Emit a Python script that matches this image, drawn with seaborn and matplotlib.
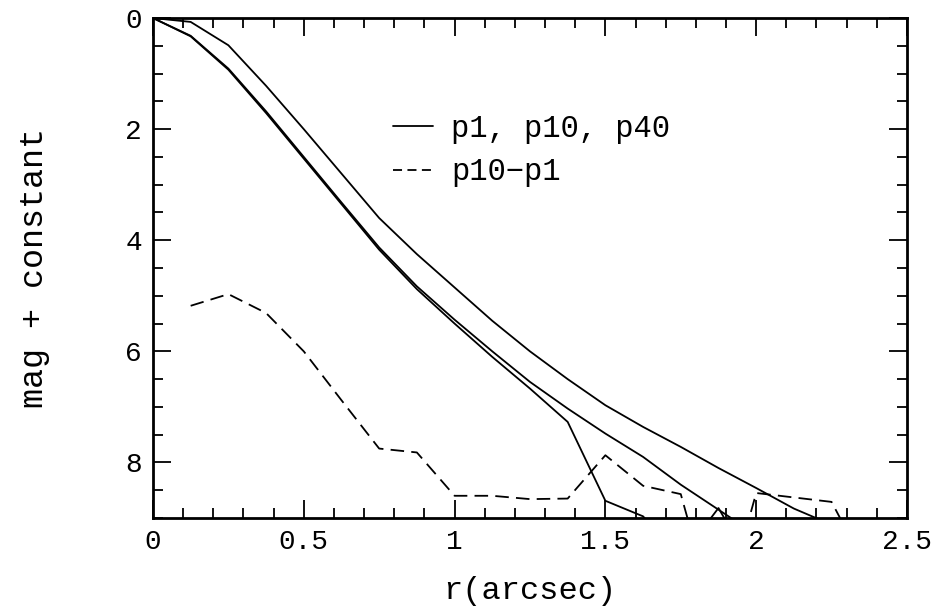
import numpy as np
import pandas as pd
import matplotlib
matplotlib.use("Agg")
import matplotlib.pyplot as plt
from matplotlib.lines import Line2D
from matplotlib.ticker import MultipleLocator
import seaborn as sns

# radius grid (arcsec) and profiles
r = [0, 0.125, 0.25, 0.375, 0.5, 0.625, 0.75, 0.875, 1.0, 1.125,
     1.25, 1.375, 1.5, 1.625, 1.75, 1.875, 2.0, 2.125, 2.25, 2.375]
p40 = [0, 0.07, 0.49, 1.22, 2.0, 2.8, 3.6, 4.25, 4.85, 5.45,
       6.0, 6.5, 6.97, 7.36, 7.72, 8.1, 8.46, 8.83, 9.12, 9.5]
p10 = [0, 0.32, 0.91, 1.68, 2.5, 3.32, 4.13, 4.83, 5.43, 6.0,
       6.55, 7.03, 7.48, 7.9, 8.4, 8.85, 9.3, 9.7, 10.1, 10.5]
p1 = [0, 0.33, 0.93, 1.71, 2.53, 3.35, 4.17, 4.88, 5.5, 6.1,
      6.67, 7.27, 8.69, 8.97, 9.72, 8.82, 10.0, 10.5, 11.0, 11.5]
diff = [np.nan, 5.18, 4.97, 5.31, 6.0, 6.88, 7.75, 7.82, 8.6, 8.6,
        8.66, 8.65, 7.87, 8.42, 8.57, 11.0, 8.55, 8.63, 8.71, 10.0]

df = pd.DataFrame({"r": r, "p40": p40, "p10": p10, "p1": p1, "diff": diff})

sns.set_style("ticks")
plt.rcParams["font.family"] = ["Liberation Mono", "DejaVu Sans Mono"]
plt.rcParams["text.color"] = "black"
plt.rcParams["axes.labelcolor"] = "black"
plt.rcParams["xtick.color"] = "black"
plt.rcParams["ytick.color"] = "black"

fig = plt.figure(figsize=(9.31, 6.11), dpi=100)
ax = fig.add_axes([0.1643, 0.1522, 0.8099, 0.8183])

for col in ["p40", "p10", "p1"]:
    sns.lineplot(data=df, x="r", y=col, ax=ax, color="black", lw=1.3)
sns.lineplot(data=df.dropna(), x="r", y="diff", ax=ax, color="black", lw=1.3,
             dashes=False, linestyle=(0, (7.5, 4)))

ax.set_xlim(0, 2.5)
ax.set_ylim(9, 0)
ax.xaxis.set_major_locator(MultipleLocator(0.5))
ax.xaxis.set_minor_locator(MultipleLocator(0.1))
ax.yaxis.set_major_locator(MultipleLocator(2))
ax.yaxis.set_minor_locator(MultipleLocator(0.5))
ax.set_xticks([0, 0.5, 1, 1.5, 2, 2.5])
ax.set_xticklabels(["0", "0.5", "1", "1.5", "2", "2.5"])
ax.tick_params(which="both", direction="in", top=True, right=True,
               labelsize=20, width=1.3, color="black", labelcolor="black")
ax.tick_params(which="major", length=13, pad=8)
ax.tick_params(which="minor", length=7)
for s in ax.spines.values():
    s.set_linewidth(2)
    s.set_color("black")

ax.set_xlabel("r(arcsec)", fontsize=23, labelpad=15)
ax.set_ylabel("mag + constant", fontsize=24, labelpad=54)

handles = [Line2D([], [], color="black", lw=1.3),
           Line2D([], [], color="black", lw=1.3, linestyle=(0, (5, 3)))]
ax.legend(handles, ["p1, p10, p40", "p10\u2212p1"], frameon=False,
          fontsize=22, loc="upper left", bbox_to_anchor=(0.282, 0.864),
          handlelength=1.3, handletextpad=0.6, labelspacing=0.45)

fig.savefig("out.png", dpi=100)
